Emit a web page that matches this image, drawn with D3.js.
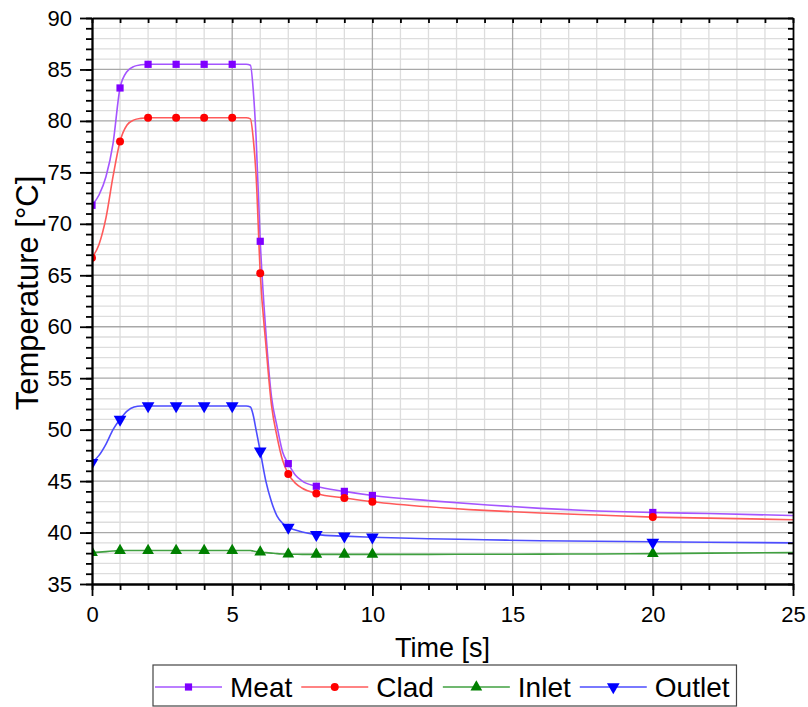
<!DOCTYPE html>
<html>
<head>
<meta charset="utf-8">
<script src="https://cdn.jsdelivr.net/npm/d3@7/dist/d3.min.js"></script>
<style>
  html, body { margin: 0; padding: 0; background: #fff; }
  svg { display: block; font-family: "Liberation Sans", Arial, sans-serif; }
</style>
</head>
<body>
<svg id="chart" width="808" height="707"></svg>
<script>
// ---------- data ----------
const seriesNames = ["Meat", "Clad", "Inlet", "Outlet"];
const markerTimes = [0, 1, 2, 3, 4, 5, 6, 7, 8, 9, 10, 20];
const meatMarkers   = [71.8, 83.2, 85.5, 85.5, 85.5, 85.5, 68.3, 46.7, 44.5, 44.0, 43.6, 41.95];
const cladMarkers   = [66.7, 78.0, 80.3, 80.3, 80.3, 80.3, 65.2, 45.7, 43.8, 43.35, 43.0, 41.5];
const inletMarkers  = [38.05, 38.25, 38.25, 38.25, 38.25, 38.25, 38.1, 37.9, 37.88, 37.88, 37.88, 37.95];
const outletMarkers = [46.8, 51.0, 52.3, 52.3, 52.3, 52.3, 47.9, 40.5, 39.8, 39.65, 39.55, 39.05];

// curve points
const lineTimes = [0, 0.25, 0.5, 0.75, 1, 1.25, 1.5, 1.75, 2, 3, 4, 5, 5.5, 5.65, 5.75, 5.85, 6, 6.2, 6.4, 6.6, 6.8, 7, 7.25, 7.5, 8, 9, 10, 12, 14, 16, 18, 20, 22, 25];
const meatLine   = [71.8, 72.8, 74.6, 77.8, 83.2, 84.8, 85.3, 85.45, 85.5, 85.5, 85.5, 85.5, 85.5, 85.4, 83.0, 78.5, 68.3, 59.5, 53.2, 50.3, 47.8, 46.7, 45.6, 45.0, 44.5, 44.0, 43.6, 43.1, 42.7, 42.35, 42.1, 41.95, 41.85, 41.65];
const cladLine   = [66.7, 68.0, 70.6, 74.6, 78.0, 79.6, 80.1, 80.25, 80.3, 80.3, 80.3, 80.3, 80.3, 80.2, 78.3, 74.8, 65.2, 58.3, 52.4, 49.3, 47.0, 45.7, 44.8, 44.3, 43.8, 43.35, 43.0, 42.5, 42.15, 41.9, 41.7, 41.5, 41.4, 41.25];
const inletLine  = [38.05, 38.1, 38.15, 38.2, 38.25, 38.25, 38.25, 38.25, 38.25, 38.25, 38.25, 38.25, 38.25, 38.25, 38.2, 38.15, 38.1, 38.05, 38.0, 37.95, 37.92, 37.9, 37.89, 37.88, 37.88, 37.88, 37.88, 37.88, 37.89, 37.9, 37.92, 37.95, 38.0, 38.05];
const outletLine = [46.8, 47.5, 48.6, 50.0, 51.0, 51.8, 52.2, 52.3, 52.3, 52.3, 52.3, 52.3, 52.3, 52.2, 51.4, 50.0, 47.9, 45.0, 43.0, 41.6, 40.9, 40.5, 40.25, 40.05, 39.8, 39.65, 39.55, 39.4, 39.3, 39.2, 39.15, 39.1, 39.05, 39.0];

const xTickLabels = [0, 5, 10, 15, 20, 25];
const yTickLabels = [35, 40, 45, 50, 55, 60, 65, 70, 75, 80, 85, 90];
const xMinorTicks = d3.range(0, 26, 1);
const yMinorTicks = d3.range(35, 91, 1);
const xTitle = "Time [s]";
const yTitle = "Temperature [°C]";

// ---------- styles ----------
const markerColors = ["#7f00ff", "#ff0000", "#008000", "#0000ff"];
const lineColors   = ["#a455ff", "#ff5a5a", "#40a040", "#4d4dff"];
const symbols = [d3.symbolSquare, d3.symbolCircle, d3.symbolTriangle, d3.symbolTriangle];
const symSizes = [52, 50, 60, 70];
const symRot = [0, 0, 0, 180];

const L = 92, R = 793, T = 18, B = 584;
const svg = d3.select("#chart");
const x = d3.scaleLinear().domain([0, 25]).range([L, R]);
const y = d3.scaleLinear().domain([35, 90]).range([B, T]);

// grid
const grid = svg.append("g");
grid.selectAll(".gxm").data(xMinorTicks.filter(v => v % 5 !== 0)).join("line")
  .attr("x1", d => x(d)).attr("x2", d => x(d)).attr("y1", T).attr("y2", B)
  .attr("stroke", "#dddddd").attr("stroke-width", 1.3);
grid.selectAll(".gym").data(yMinorTicks.filter(v => v % 5 !== 0)).join("line")
  .attr("y1", d => y(d)).attr("y2", d => y(d)).attr("x1", L).attr("x2", R)
  .attr("stroke", "#dddddd").attr("stroke-width", 1.3);
grid.selectAll(".gxM").data(xTickLabels.filter(v => v > 0 && v < 25)).join("line")
  .attr("x1", d => x(d)).attr("x2", d => x(d)).attr("y1", T).attr("y2", B)
  .attr("stroke", "#a8a8a8").attr("stroke-width", 1.3);
grid.selectAll(".gyM").data(yTickLabels.filter(v => v > 35 && v < 90)).join("line")
  .attr("y1", d => y(d)).attr("y2", d => y(d)).attr("x1", L).attr("x2", R)
  .attr("stroke", "#a8a8a8").attr("stroke-width", 1.3);

// clip
svg.append("clipPath").attr("id", "clip").append("rect")
  .attr("x", L).attr("y", T).attr("width", R - L).attr("height", B - T);

const lines = [meatLine, cladLine, inletLine, outletLine];
const markers = [meatMarkers, cladMarkers, inletMarkers, outletMarkers];
const lineGen = d3.line().x(d => x(d[0])).y(d => y(d[1])).curve(d3.curveMonotoneX);

const plot = svg.append("g").attr("clip-path", "url(#clip)");
lines.forEach((vals, i) => {
  plot.append("path")
    .datum(lineTimes.map((t, k) => [t, vals[k]]))
    .attr("fill", "none").attr("stroke", lineColors[i]).attr("stroke-width", 1.6)
    .attr("d", lineGen);
});
markers.forEach((vals, i) => {
  const sym = d3.symbol().type(symbols[i]).size(symSizes[i]);
  plot.selectAll(".m" + i).data(markerTimes.map((t, k) => [t, vals[k]])).join("path")
    .attr("transform", d => `translate(${x(d[0])},${y(d[1])}) rotate(${symRot[i]})`)
    .attr("d", sym).attr("fill", markerColors[i]);
});

// axes
function styleAxis(g) {
  g.selectAll("path.domain").attr("stroke", "#000").attr("stroke-width", 1.8);
  g.selectAll(".tick line").attr("stroke", "#000").attr("stroke-width", 1.8);
  g.selectAll("text").attr("font-family", "Liberation Sans, Arial, sans-serif")
    .attr("font-size", 22).attr("fill", "#000");
}
// left
svg.append("g").attr("transform", `translate(${L},0)`)
  .call(d3.axisLeft(y).tickValues(yMinorTicks).tickSize(6).tickSizeOuter(0).tickFormat(""))
  .call(styleAxis);
svg.append("g").attr("transform", `translate(${L},0)`)
  .call(d3.axisLeft(y).tickValues(yTickLabels).tickSize(12).tickSizeOuter(0).tickPadding(8).tickFormat(d3.format("d")))
  .call(styleAxis);
// bottom
svg.append("g").attr("transform", `translate(0,${B})`)
  .call(d3.axisBottom(x).tickValues(xMinorTicks).tickSize(6).tickSizeOuter(0).tickFormat(""))
  .call(styleAxis);
svg.append("g").attr("transform", `translate(0,${B})`)
  .call(d3.axisBottom(x).tickValues(xTickLabels).tickSize(12).tickSizeOuter(0).tickPadding(10).tickFormat(d3.format("d")))
  .call(styleAxis);
// top (inward)
svg.append("g").attr("transform", `translate(0,${T})`)
  .call(d3.axisTop(x).tickValues(xMinorTicks).tickSize(-5).tickSizeOuter(0).tickFormat(""))
  .call(styleAxis);
// right (inward)
svg.append("g").attr("transform", `translate(${R},0)`)
  .call(d3.axisRight(y).tickValues(yMinorTicks).tickSize(-5).tickSizeOuter(0).tickFormat(""))
  .call(styleAxis);

// titles
svg.append("text").attr("x", (L + R) / 2 + 0).attr("y", 657).attr("text-anchor", "middle")
  .attr("font-size", 27).attr("fill", "#000").text(xTitle);
svg.append("text").attr("transform", `translate(38,293) rotate(-90)`).attr("text-anchor", "middle")
  .attr("font-size", 31).attr("fill", "#000").text(yTitle);

// legend
const lg = svg.append("g");
const box = lg.append("rect").attr("x", 153).attr("y", 665).attr("height", 41)
  .attr("fill", "#fff").attr("stroke", "#444").attr("stroke-width", 1.2);
let cx = 155;
const ly = 687;
seriesNames.forEach((name, i) => {
  lg.append("line").attr("x1", cx).attr("x2", cx + 67).attr("y1", ly).attr("y2", ly)
    .attr("stroke", lineColors[i]).attr("stroke-width", 1.6);
  const sym = d3.symbol().type(symbols[i]).size(symSizes[i]);
  lg.append("path").attr("transform", `translate(${cx + 33.5},${ly}) rotate(${symRot[i]})`)
    .attr("d", sym).attr("fill", markerColors[i]);
  const t = lg.append("text").attr("x", cx + 75).attr("y", 697).attr("font-size", 28)
    .attr("fill", "#000").text(name);
  cx = cx + 75 + t.node().getComputedTextLength() + 9;
});
box.attr("width", cx - 153 - 2);
</script>
</body>
</html>
